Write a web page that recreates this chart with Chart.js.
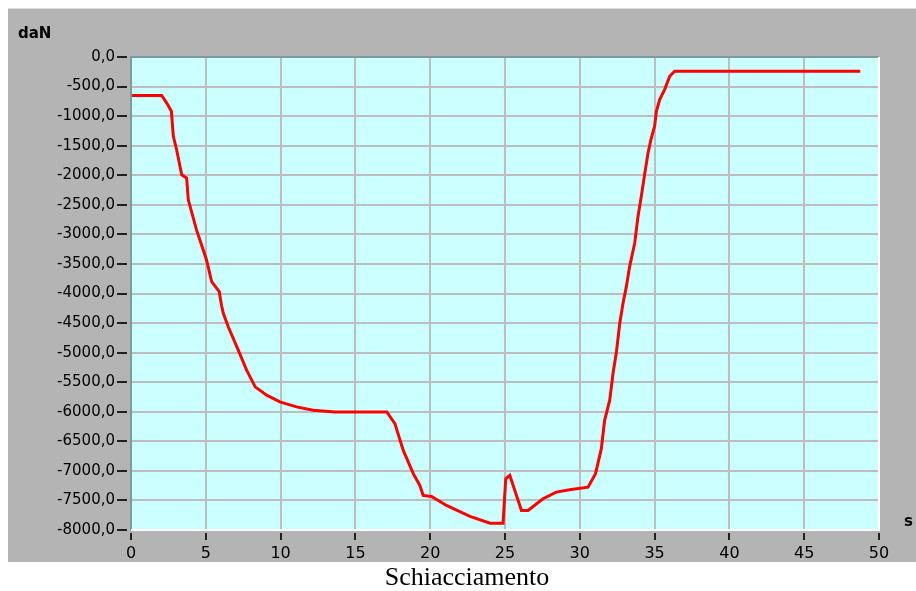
<!DOCTYPE html>
<html lang="it">
<head>
  <meta charset="UTF-8" />
  <title>Schiacciamento</title>
  <style>
    html, body { margin: 0; padding: 0; background: #ffffff; }
    #wrap { width: 916px; height: 591px; }
  </style>
</head>
<body>
  <div id="wrap"><canvas id="grafico" width="916" height="591"></canvas></div>

  <script src="https://cdn.jsdelivr.net/npm/chart.js"></script>
  <script>
    // tempo (s) e forza (daN)
    const tempi = [0, 2.05, 2.38, 2.7, 2.83, 3.05, 3.39, 3.72, 3.83, 4.38, 5.05, 5.39, 5.9, 6.05, 6.17, 6.5,
      7.17, 7.73, 8.3, 9.07, 9.95, 11.07, 12.18, 13.63, 17.1, 17.64, 18.2, 18.87, 19.31, 19.53, 20.09, 21.09,
      22.66, 24.0, 24.87, 25.05, 25.32, 26.1, 26.54, 27.54, 28.43, 29.32, 30.55, 31.05, 31.44, 31.66, 32.0,
      32.22, 32.45, 32.67, 32.89, 33.11, 33.33, 33.67, 33.89, 34.11, 34.33, 34.56, 34.78, 35.0, 35.12, 35.34,
      35.67, 36.01, 36.34, 48.75];
    const forze = [-650, -650, -776, -918, -1342, -1568, -1992, -2048, -2415, -2924, -3432, -3800, -3969, -4200, -4336, -4562,
      -4958, -5297, -5579, -5720, -5833, -5918, -5975, -6003, -6003, -6200, -6653, -7047, -7246, -7415, -7432, -7585,
      -7771, -7884, -7884, -7133, -7076, -7669, -7669, -7471, -7359, -7319, -7275, -7047, -6624, -6144, -5805,
      -5353, -4986, -4505, -4166, -3884, -3545, -3150, -2698, -2359, -1992, -1624, -1370, -1172, -918, -720,
      -551, -325, -240, -240];

    const xTicks = [0, 5, 10, 15, 20, 25, 30, 35, 40, 45, 50];
    const yTicks = [0, -500, -1000, -1500, -2000, -2500, -3000, -3500, -4000, -4500, -5000, -5500, -6000, -6500, -7000, -7500, -8000];

    const titolo = 'Schiacciamento';
    const unitaY = 'daN';
    const unitaX = 's';

    const punti = tempi.map((t, i) => ({ x: t, y: forze[i] }));

    function formatta(v) {
      const n = Math.abs(v) < 1e-9 ? 0 : v;
      return n.toFixed(1).replace('.', ',');
    }

    const sfondo = {
      id: 'sfondo',
      beforeDraw(chart) {
        const c = chart.ctx;
        const a = chart.chartArea;
        c.save();
        c.fillStyle = '#ffffff';
        c.fillRect(0, 0, chart.width, chart.height);
        c.fillStyle = '#b4b4b4';
        c.fillRect(8, 8, chart.width - 8, 554);
        c.fillStyle = '#dcdcdc';
        c.fillRect(8, 8, chart.width - 8, 1);
        c.fillStyle = '#ccffff';
        c.fillRect(a.left, a.top, a.right - a.left, a.bottom - a.top);
        c.restore();
      },
      afterDraw(chart) {
        const c = chart.ctx;
        const a = chart.chartArea;
        const xs = chart.scales.x;
        const ys = chart.scales.y;
        c.save();
        // bordo incassato
        c.fillStyle = '#7c9c9c';
        c.fillRect(a.left - 1, a.top - 1, a.right - a.left + 1, 2);
        c.fillRect(a.left - 1, a.top - 1, 2, a.bottom - a.top + 1);
        c.fillStyle = '#ffffff';
        c.fillRect(a.left, a.bottom - 1, a.right - a.left + 1, 2);
        c.fillRect(a.right - 1, a.top, 2, a.bottom - a.top + 1);
        // tacche
        c.fillStyle = '#202020';
        yTicks.forEach(v => {
          const y = Math.round(ys.getPixelForValue(v));
          c.fillRect(a.left - 14, y - 1, 10, 2);
        });
        xTicks.forEach(v => {
          const x = Math.round(xs.getPixelForValue(v));
          c.fillRect(x - 1, a.bottom + 3, 2, 7);
        });
        // etichette unità
        c.fillStyle = '#000000';
        c.font = 'bold 15px "DejaVu Sans"';
        c.textAlign = 'left';
        c.textBaseline = 'alphabetic';
        c.fillText(unitaY, 18, 38);
        c.fillText(unitaX, 904, 526);
        // titolo
        c.font = '26px "Liberation Serif"';
        c.textAlign = 'center';
        c.fillText(titolo, 467, 585);
        c.restore();
      }
    };

    new Chart(document.getElementById('grafico'), {
      type: 'line',
      data: {
        datasets: [{
          data: punti,
          borderColor: '#ff0000',
          borderWidth: 3,
          pointRadius: 0,
          tension: 0,
          fill: false
        }]
      },
      options: {
        responsive: false,
        animation: false,
        events: [],
        layout: { padding: { top: 57, right: 37, bottom: 0, left: 0 } },
        plugins: { legend: { display: false }, tooltip: { enabled: false } },
        scales: {
          x: {
            type: 'linear',
            min: 0,
            max: 50,
            afterFit(s) { s.height = 61; },
            afterBuildTicks(s) { s.ticks = xTicks.map(v => ({ value: v })); },
            grid: { color: '#bebebe', lineWidth: 2, drawTicks: false },
            border: { display: false },
            ticks: {
              color: '#000000',
              padding: 14,
              maxRotation: 0,
              font: { family: 'DejaVu Sans', size: 16 },
              callback: v => String(v)
            }
          },
          y: {
            type: 'linear',
            min: -8000,
            max: 0,
            afterFit(s) { s.width = 131; },
            afterBuildTicks(s) { s.ticks = yTicks.map(v => ({ value: v })); },
            grid: { color: '#bebebe', lineWidth: 2, drawTicks: false },
            border: { display: false },
            ticks: {
              color: '#000000',
              padding: 16,
              font: { family: 'DejaVu Sans', size: 15 },
              callback: v => formatta(v)
            }
          }
        }
      },
      plugins: [sfondo]
    });
  </script>
</body>
</html>
